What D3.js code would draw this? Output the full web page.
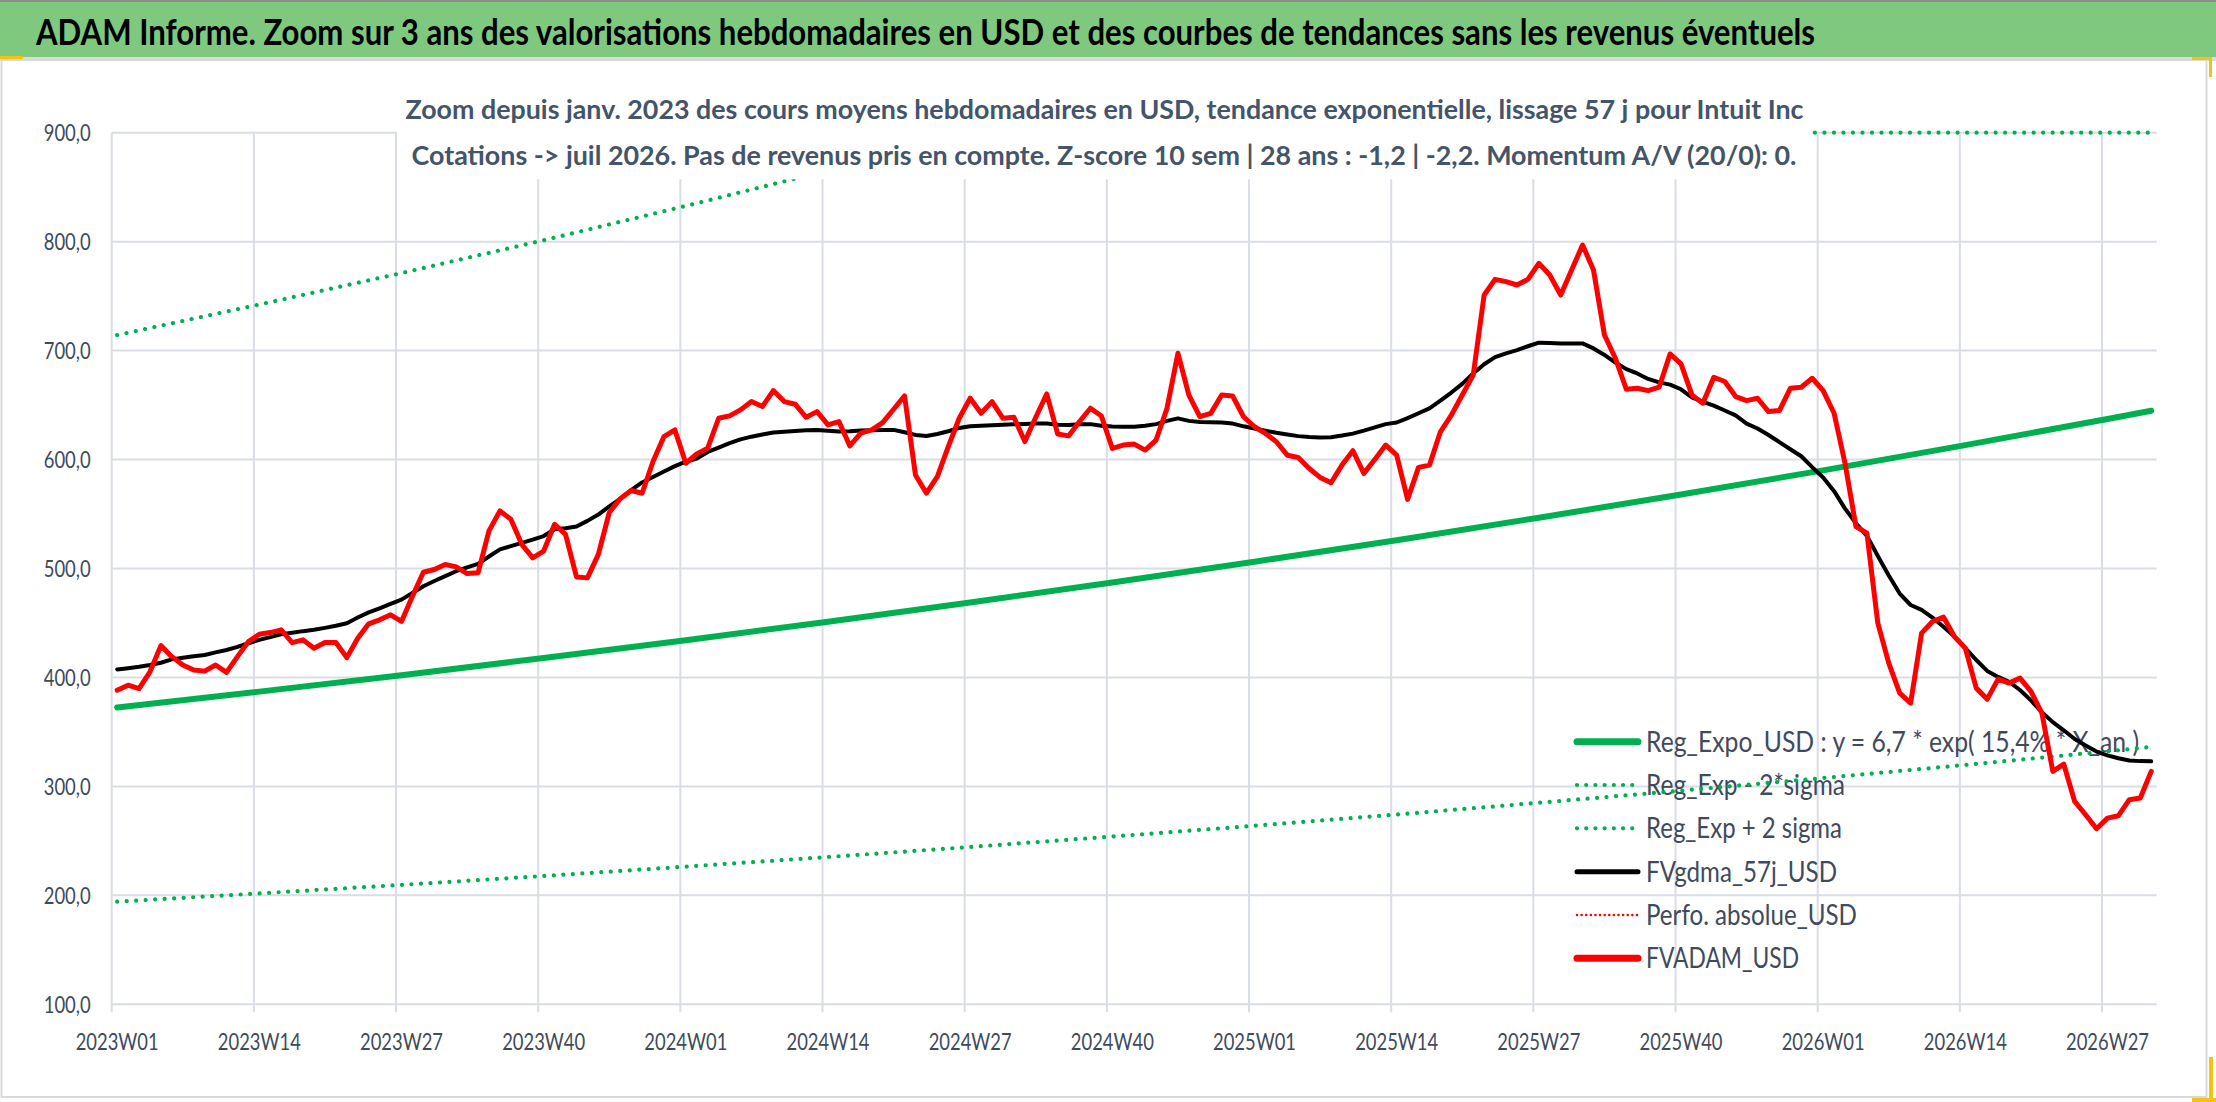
<!DOCTYPE html>
<html>
<head>
<meta charset="utf-8">
<script src="https://cdn.jsdelivr.net/npm/d3@7"></script>
<style>
  body{margin:0;background:#fff;}
  svg{display:block;}
  text{font-family:Lato,"Open Sans","Liberation Sans",sans-serif;}
</style>
</head>
<body>
<svg id="theSVG"></svg>
<script>
// ---- data ----
var years = [2023, 2024, 2025, 2026];
var weeksShown = [52, 52, 52, 31];
var categories = [];
years.forEach(function(yr, k){
    for (var w = 1; w <= weeksShown[k]; ++w)
        categories.push(yr + "W" + (w < 10 ? "0" : "") + w);
});

var tickLabels = ["2023W01","2023W14","2023W27","2023W40","2024W01","2024W14","2024W27","2024W40",
                  "2025W01","2025W14","2025W27","2025W40","2026W01","2026W14","2026W27"];
var yTicks = [100, 200, 300, 400, 500, 600, 700, 800, 900];

// FVADAM_USD, weekly
var fvadam = [
 388.3,392.9,389.8,405.2,429.2,419.1,411.4,406.8,405.8,411.4,
 404.6,419.1,432.9,439.7,441.2,443.7,432.0,434.5,426.8,432.0,
 432.0,418.2,436.0,449.2,452.9,457.5,451.4,474.5,496.6,499.1,
 503.7,501.5,495.4,496.0,534.5,552.9,545.2,522.2,509.8,516.0,
 540.6,531.4,492.3,491.4,513.0,551.4,564.0,571.6,569.1,598.2,
 621.1,627.2,596.6,605.2,610.4,637.9,640.1,645.6,653.2,648.6,
 663.3,653.2,650.8,638.8,644.0,631.8,634.9,612.5,624.2,627.2,
 633.9,646.2,658.4,585.9,569.1,584.4,611.9,637.9,656.3,642.5,
 653.2,637.9,638.8,616.5,638.8,660.2,623.5,621.7,634.9,647.1,
 640.0,610.2,613.3,614.2,608.7,617.9,647.0,697.5,659.2,639.3,
 642.4,659.2,658.3,639.3,630.1,624.0,616.3,604.0,601.9,591.8,
 583.6,578.7,594.9,608.1,587.3,600.1,613.3,604.1,563.4,592.8,
 594.9,625.5,640.8,659.2,677.6,751.0,765.4,763.3,760.2,765.4,
 780.1,769.4,751.0,774.0,796.9,774.0,714.3,693.0,664.5,665.4,
 663.3,666.4,696.9,687.8,659.3,651.7,675.5,671.6,657.8,654.1,
 656.3,644.0,645.0,665.4,666.4,674.6,663.3,642.5,596.6,538.5,
 532.4,449.8,413.1,385.6,376.5,440.7,451.4,455.4,437.6,426.9,
 390.2,380.1,398.5,394.8,399.4,387.2,367.3,313.8,320.5,286.2,
 274.0,261.2,270.9,273.1,287.8,289.3,313.8
];

// FVgdma_57j_USD, weekly
var fvgdma = [
 407.4,408.5,409.8,411.5,413.5,416.6,418.0,419.5,420.6,423.0,
 425.2,428.0,431.4,434.5,437.0,439.7,441.0,442.5,443.7,445.5,
 447.5,449.8,455.0,459.7,463.5,467.5,471.4,477.5,483.7,488.5,
 493.0,497.5,501.0,504.3,511.0,517.5,520.5,523.5,526.5,529.8,
 536.0,537.0,538.5,543.7,549.5,557.0,564.0,572.0,579.0,584.0,
 589.0,594.0,598.0,601.0,607.0,611.0,615.0,618.5,621.0,623.0,
 624.8,625.5,626.3,626.8,627.2,626.5,625.7,626.0,626.6,627.0,
 627.2,627.2,625.0,622.6,621.7,623.5,626.0,629.0,630.5,631.0,
 631.5,632.0,632.3,632.6,633.0,633.0,632.0,631.8,632.3,632.5,
 631.0,630.3,630.0,630.1,631.0,632.5,635.5,637.8,635.5,634.5,
 634.3,634.1,633.0,630.5,628.5,626.5,624.6,623.0,621.5,620.7,
 620.3,620.5,622.0,623.8,626.5,629.5,632.5,634.0,638.0,642.5,
 647.0,654.0,661.5,669.5,679.0,687.5,694.0,697.5,700.5,704.0,
 707.3,707.0,706.6,706.6,706.6,702.0,696.0,689.0,683.0,679.0,
 674.0,670.8,668.8,664.5,657.0,653.0,649.5,645.0,640.5,633.0,
 628.5,622.5,616.0,609.5,603.0,593.0,583.5,571.0,555.0,541.5,
 530.0,511.5,493.5,477.0,466.5,462.0,455.0,446.5,437.5,427.0,
 416.0,406.0,400.5,396.0,388.5,379.0,368.0,359.0,351.5,343.5,
 337.5,332.0,328.5,325.8,323.8,323.2,323.0
];

// trend curves read at the labelled weeks and at the last week
var trendWeeks = ["2023W01","2023W14","2023W27","2023W40","2024W01","2024W14","2024W27","2024W40",
                  "2025W01","2025W14","2025W27","2025W40","2026W01","2026W14","2026W27","2026W31"];
var regExpo = [372.4,387.0,402.1,417.8,434.2,451.2,468.8,487.1,506.2,526.0,546.6,567.9,590.1,613.2,637.2,644.8];
var regLow  = [194.2,201.8,209.6,217.8,226.4,235.2,244.4,254.0,263.9,274.2,285.0,296.1,307.7,319.7,332.2,336.2];
var regHigh = [714.3,742.3,771.2,801.3,832.8,865.4,899.2,900,900,900,900,900,900,900,900,900];

var legendNames = ["Reg_Expo_USD : y = 6,7 * exp( 15,4% * X_an )", "Reg_Exp - 2*sigma", "Reg_Exp + 2 sigma",
                   "FVgdma_57j_USD", "Perfo. absolue_USD", "FVADAM_USD"];

var titleText = "ADAM Informe. Zoom sur 3 ans des valorisations hebdomadaires en USD et des courbes de tendances sans les revenus éventuels";
var subtitle = ["Zoom depuis janv. 2023 des cours moyens hebdomadaires en USD, tendance exponentielle, lissage 57 j pour Intuit Inc",
                "Cotations -> juil 2026. Pas de revenus pris en compte. Z-score 10 sem | 28 ans : -1,2 | -2,2. Momentum A/V (20/0): 0."];

// ---- drawing ----
var W = 2216, H = 1102;
var green = "#00B050", gridCol = "#D9DDE4", axisText = "#404A5C";

var svg = d3.select("#theSVG").attr("width", W).attr("height", H);

var x = d3.scaleBand().domain(categories).range([111.7, 2156.7]).padding(0);
var cx = function(c){ return x(c) + x.bandwidth() / 2; };
var y = d3.scaleLinear().domain([100, 900]).range([1004.3, 132.7]);

// chart area frame
svg.append("rect").attr("x", 1.5).attr("y", 60).attr("width", 2205).attr("height", 1037)
    .style("fill", "#fff").style("stroke", "#D9D9D9").style("stroke-width", 2);

// gridlines
svg.append("g").selectAll("line").data(yTicks).enter().append("line")
    .attr("x1", x.range()[0]).attr("x2", x.range()[1])
    .attr("y1", function(d){ return y(d); }).attr("y2", function(d){ return y(d); })
    .style("stroke", gridCol).style("stroke-width", 2);

svg.append("g").selectAll("line").data(tickLabels).enter().append("line")
    .attr("x1", function(d){ return x(d); }).attr("x2", function(d){ return x(d); })
    .attr("y1", y(900)).attr("y2", y(100) + 8)
    .style("stroke", gridCol).style("stroke-width", 2);

// axis labels
svg.append("g").selectAll("text").data(yTicks).enter().append("text")
    .attr("x", 90.7).attr("y", function(d){ return y(d) + 8.5; })
    .attr("text-anchor", "end").style("font-size", "24px").style("fill", axisText)
    .attr("textLength", 47).attr("lengthAdjust", "spacingAndGlyphs")
    .text(function(d){ return d3.format(".1f")(d).replace(".", ","); });

svg.append("g").selectAll("text").data(tickLabels).enter().append("text")
    .attr("x", function(d){ return cx(d); }).attr("y", 1050)
    .attr("text-anchor", "middle").style("font-size", "23px").style("fill", axisText)
    .attr("textLength", 83).attr("lengthAdjust", "spacingAndGlyphs")
    .text(function(d){ return d; });

// legend
var legY = [741.7, 785, 828.3, 871.7, 915, 958.3];
var legW = [493, 199, 196, 191, 211, 153];
var legStyle = [
    {stroke: green,    width: 7,   dash: null},
    {stroke: green,    width: 4.2, dash: "0.01 9.2"},
    {stroke: green,    width: 4.2, dash: "0.01 9.2"},
    {stroke: "#000",   width: 5,   dash: null},
    {stroke: "#FF0000",width: 2.6, dash: "0.01 4.6"},
    {stroke: "#FF0000",width: 7,   dash: null}
];
var leg = svg.append("g");
legendNames.forEach(function(name, i){
    var s = legStyle[i];
    leg.append("line").attr("x1", 1577).attr("x2", 1638).attr("y1", legY[i]).attr("y2", legY[i])
        .style("stroke", s.stroke).style("stroke-width", s.width).style("stroke-linecap", "round")
        .style("stroke-dasharray", s.dash);
    leg.append("text").attr("x", 1646).attr("y", legY[i] + 10)
        .style("font-size", "28px").style("fill", axisText)
        .attr("textLength", legW[i]).attr("lengthAdjust", "spacingAndGlyphs")
        .text(name);
});

// series
var trendLine = d3.line()
    .x(function(d, i){ return cx(trendWeeks[i]); })
    .y(function(d){ return y(Math.min(d, 900)); });
var weekLine = d3.line()
    .x(function(d, i){ return cx(categories[i]); })
    .y(function(d){ return y(d); });

svg.append("path").attr("d", trendLine(regExpo))
    .style("fill", "none").style("stroke", green).style("stroke-width", 6).style("stroke-linecap", "round");
[regLow, regHigh].forEach(function(band){
    svg.append("path").attr("d", trendLine(band))
        .style("fill", "none").style("stroke", green).style("stroke-width", 4.2)
        .style("stroke-linecap", "round").style("stroke-dasharray", "0.01 9.5");
});
svg.append("path").attr("d", weekLine(fvgdma))
    .style("fill", "none").style("stroke", "#000").style("stroke-width", 4)
    .style("stroke-linejoin", "round").style("stroke-linecap", "round");
svg.append("path").attr("d", weekLine(fvadam))
    .style("fill", "none").style("stroke", "#FF0000").style("stroke-width", 5)
    .style("stroke-linejoin", "round").style("stroke-linecap", "round");

// chart title box (white, hides what lies under it)
svg.append("rect").attr("x", 397).attr("y", 72).attr("width", 1415).attr("height", 107.3).style("fill", "#fff");
svg.append("text").attr("x", 405.5).attr("y", 119.3)
    .style("font-size", "26px").style("font-weight", 700).style("fill", "#44546A")
    .attr("textLength", 1398).attr("lengthAdjust", "spacingAndGlyphs").text(subtitle[0]);
svg.append("text").attr("x", 411.5).attr("y", 165)
    .style("font-size", "26px").style("font-weight", 700).style("fill", "#44546A")
    .attr("textLength", 1385).attr("lengthAdjust", "spacingAndGlyphs").text(subtitle[1]);

// title bar
svg.append("rect").attr("x", 0).attr("y", 0).attr("width", W).attr("height", 2).style("fill", "#8C8C8C");
svg.append("rect").attr("x", 0).attr("y", 2).attr("width", W).attr("height", 55).style("fill", "#7FC97F");
svg.append("rect").attr("x", 0).attr("y", 57).attr("width", W).attr("height", 4).style("fill", "#DADADA");
svg.append("text").attr("x", 36).attr("y", 45)
    .style("font-size", "37px").style("font-weight", 700).style("fill", "#000")
    .attr("textLength", 1779).attr("lengthAdjust", "spacingAndGlyphs").text(titleText);

// selection handles left by the spreadsheet
var handles = [[0, 56, 23, 3], [2192, 57, 20, 3], [2209, 57, 3, 20], [2209, 1057, 4, 44], [2192, 1098, 24, 4]];
svg.append("g").selectAll("rect").data(handles).enter().append("rect")
    .attr("x", function(d){ return d[0]; }).attr("y", function(d){ return d[1]; })
    .attr("width", function(d){ return d[2]; }).attr("height", function(d){ return d[3]; })
    .style("fill", "#F5C211");
</script>
</body>
</html>
